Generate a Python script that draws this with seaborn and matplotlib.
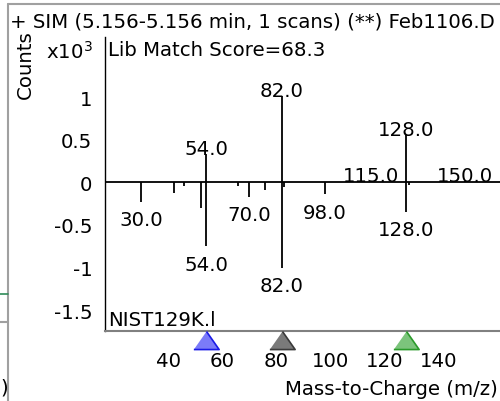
"""
Library match plot: sample SIM spectrum (up) vs NIST library spectrum (down)
"""

import matplotlib
matplotlib.use("Agg")
import matplotlib.pyplot as plt
from matplotlib.lines import Line2D
import seaborn as sns

# sample spectrum, counts in x10^3
sample_mz = [54.0, 82.0, 115.0, 128.0, 150.0]
sample_counts = [0.33, 1.01, 0.02, 0.55, 0.02]

# library spectrum drawn downwards
library_mz = [30.0, 42.0, 46.0, 52.0, 54.0, 66.0, 70.0, 76.0, 82.0, 83.0, 98.0, 128.0, 129.0]
library_counts = [-0.23, -0.13, -0.04, -0.30, -0.75, -0.04, -0.17, -0.09, -1.00, -0.05, -0.14, -0.35, -0.03]
library_labeled = [30.0, 54.0, 70.0, 82.0, 98.0, 128.0]

# ion markers on the x axis
marker_mz = [54.0, 82.0, 128.0]
marker_fill = ["#7b7bf8", "#7a7a7a", "#7cc47c"]
marker_edge = ["#1a1ae6", "#3a3a3a", "#2a9a2a"]

yticks = [-1.5, -1.0, -0.5, 0.0, 0.5, 1.0]
ytick_labels = ["-1.5", "-1", "-0.5", "0", "0.5", "1"]
xticks = [20, 40, 60, 80, 100, 120, 140, 160]
xtick_labels = ["", "40", "60", "80", "100", "120", "140", ""]

title = "+ SIM (5.156-5.156 min, 1 scans) (**) Feb1106.D"
score_text = "Lib Match Score=68.3"
library_name = "NIST129K.l"

sns.set_style("white")
plt.rcParams['font.family'] = ['DejaVu Sans']
plt.rcParams['font.size'] = 14.2
plt.rcParams['text.color'] = 'black'
plt.rcParams['xtick.color'] = 'black'
plt.rcParams['ytick.color'] = 'black'

FS = 14.2
W, H = 500, 402
fig = plt.figure(figsize=(W / 100, H / 100), dpi=100)
ax = fig.add_axes([105 / W, (H - 332) / H, 395 / W, 294 / H])

ax.set_xlim(16.56, 162.85)
ax.set_ylim(-1.745, 1.705)

# sticks
ax.vlines(sample_mz, 0, sample_counts, color='black', lw=1.3)
ax.vlines(library_mz, 0, library_counts, color='black', lw=1.3)
ax.axhline(0, color='black', lw=1.3)

# peak labels
for mz, c in zip(sample_mz, sample_counts):
    ax.annotate(f"{mz:.1f}", (mz, c), xytext=(0, 0), textcoords='offset points',
                ha='center', va='baseline', fontsize=FS, color='black')
for mz, c in zip(library_mz, library_counts):
    if mz in library_labeled:
        ax.annotate(f"{mz:.1f}", (mz, c), xytext=(0, -6), textcoords='offset points',
                    ha='center', va='top', fontsize=FS, color='black')

# triangles sitting on the x axis
tri = [(-0.7, -1.0), (0.7, -1.0), (0.0, 0.0)]
ymin = ax.get_ylim()[0]
for mz, fc, ec in zip(marker_mz, marker_fill, marker_edge):
    sns.scatterplot(x=[mz], y=[ymin], ax=ax, marker=tri, s=676, color=fc,
                    edgecolor=ec, linewidth=1.2, clip_on=False, zorder=5, legend=False)

# axes styling
for side in ['top', 'right']:
    ax.spines[side].set_visible(False)
ax.spines['left'].set_color('black')
ax.spines['left'].set_linewidth(1.0)
ax.spines['bottom'].set_color('#808080')
ax.spines['bottom'].set_linewidth(1.5)

ax.set_yticks(yticks + [1.565])
ax.set_yticklabels(ytick_labels + ["x10$^{3}$"])
ax.set_xticks(xticks)
ax.set_xticklabels(xtick_labels)
ax.tick_params(axis='y', length=7, width=1, color='black', pad=2,
               labelsize=FS, labelcolor='black')
ax.tick_params(axis='x', length=8.6, width=1.5, color='#808080', pad=5.5,
               labelsize=FS, labelcolor='black')
ax.set_xlabel("")
ax.set_ylabel("")

# texts
fig.text(10 / W, 1 - 22 / H, title, ha='left', va='center', fontsize=FS)
fig.text(108 / W, 1 - 50 / H, score_text, ha='left', va='center', fontsize=FS)
fig.text(108 / W, 1 - 320 / H, library_name, ha='left', va='center', fontsize=FS)
fig.text(25 / W, 1 - 65 / H, "Counts", rotation=90, ha='center', va='center', fontsize=FS)
fig.text(498 / W, 1 - 390 / H, "Mass-to-Charge (m/z)", ha='right', va='center', fontsize=FS)

# panel frame bits from the neighbouring window
fig.add_artist(Line2D([8 / W, 8 / W], [0, 1 - 5 / H], color='#a0a0a0', lw=1.5))
fig.add_artist(Line2D([8 / W, 1], [1 - 5 / H, 1 - 5 / H], color='#a0a0a0', lw=1.5))
fig.add_artist(Line2D([0, 8 / W], [1 - 295 / H, 1 - 295 / H], color='#2e8b57', lw=1.2))
fig.add_artist(Line2D([0, 8 / W], [1 - 323 / H, 1 - 323 / H], color='#a0a0a0', lw=1.5))
fig.text(0.5 / W, 1 - 388 / H, ")", ha='left', va='center', fontsize=FS)

fig.savefig('out.png', dpi=100)
plt.close(fig)
